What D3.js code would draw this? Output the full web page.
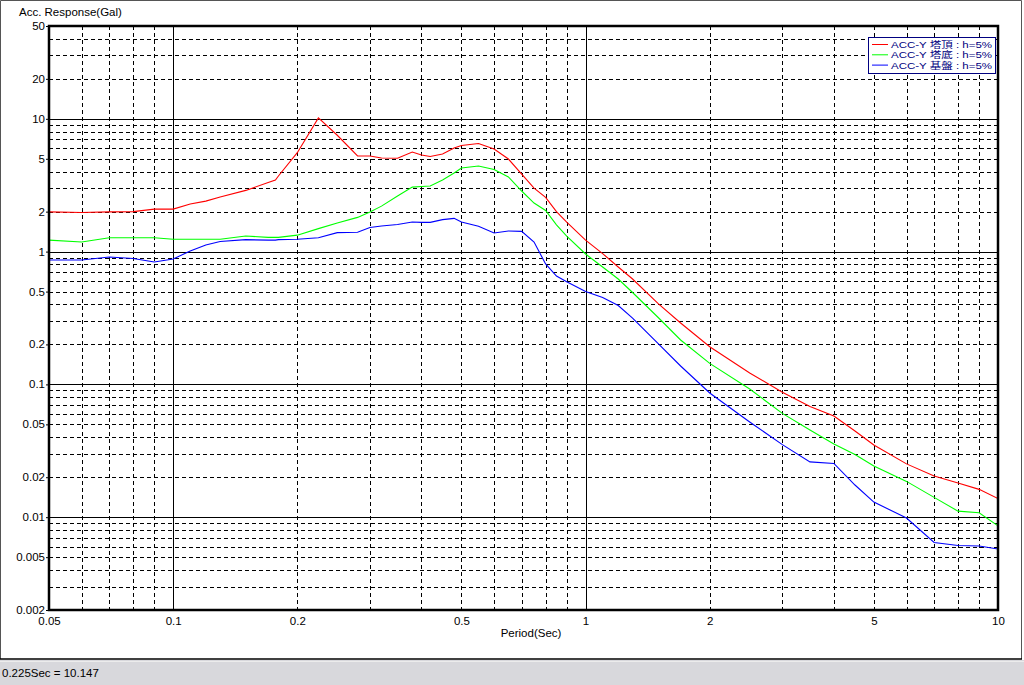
<!DOCTYPE html>
<html>
<head>
<meta charset="utf-8">
<script src="https://cdn.jsdelivr.net/npm/d3@7"></script>
<style>
  html, body { margin: 0; padding: 0; background: #ffffff; }
  svg { display: block; }
  text { font-family: "Liberation Sans", "Noto Sans CJK JP", sans-serif; }
</style>
</head>
<body>
<svg id="chart" width="1024" height="685"></svg>
<script>
// ---- data ----
const periods = [0.05, 0.06, 0.07, 0.08, 0.09, 0.1, 0.11, 0.12, 0.13, 0.15, 0.17, 0.177, 0.18, 0.2, 0.225, 0.25, 0.28, 0.3, 0.32, 0.35, 0.38, 0.4, 0.42, 0.45, 0.48, 0.5, 0.55, 0.6, 0.65, 0.7, 0.75, 0.8, 0.85, 0.9, 1.0, 1.1, 1.2, 1.3, 1.5, 1.7, 2.0, 2.5, 3.0, 3.5, 4.0, 4.5, 5.0, 6.0, 7.0, 8.0, 9.0, 10.0];
const topValues = [1.99, 1.97, 1.99, 2.00, 2.09, 2.09, 2.28, 2.40, 2.58, 2.89, 3.31, 3.46, 3.71, 5.56, 10.15, 7.52, 5.25, 5.25, 5.07, 5.05, 5.62, 5.34, 5.20, 5.43, 6.03, 6.29, 6.51, 5.92, 4.98, 3.84, 3.01, 2.56, 2.00, 1.67, 1.22, 0.966, 0.766, 0.622, 0.406, 0.290, 0.192, 0.122, 0.0872, 0.0682, 0.0578, 0.0446, 0.0350, 0.0252, 0.0204, 0.0181, 0.0162, 0.0138];
const bottomValues = [1.22, 1.18, 1.27, 1.27, 1.27, 1.24, 1.24, 1.24, 1.24, 1.31, 1.28, 1.28, 1.28, 1.33, 1.49, 1.64, 1.81, 1.99, 2.20, 2.62, 3.06, 3.09, 3.12, 3.46, 3.91, 4.26, 4.41, 4.15, 3.65, 2.86, 2.32, 2.04, 1.59, 1.31, 0.959, 0.766, 0.622, 0.492, 0.319, 0.216, 0.144, 0.0923, 0.0605, 0.0454, 0.0356, 0.0297, 0.0243, 0.0186, 0.0141, 0.0111, 0.0108, 0.0086];
const baseValues = [0.865, 0.865, 0.911, 0.888, 0.835, 0.880, 1.01, 1.12, 1.19, 1.23, 1.22, 1.22, 1.23, 1.24, 1.27, 1.39, 1.40, 1.52, 1.56, 1.60, 1.67, 1.66, 1.66, 1.74, 1.78, 1.67, 1.55, 1.38, 1.43, 1.42, 1.18, 0.807, 0.655, 0.593, 0.501, 0.451, 0.393, 0.316, 0.203, 0.1376, 0.0861, 0.0521, 0.0352, 0.0261, 0.0254, 0.01747, 0.0130, 0.00986, 0.00645, 0.00612, 0.00607, 0.00576];

const seriesNames = ["ACC-Y 塔頂 : h=5%", "ACC-Y 塔底 : h=5%", "ACC-Y 基盤 : h=5%"];
const seriesColors = ["#ff0000", "#00ff00", "#0000ff"];
const seriesValues = [topValues, bottomValues, baseValues];

const xTickLabels = [0.05, 0.1, 0.2, 0.5, 1, 2, 5, 10];
const yTickLabels = [0.002, 0.005, 0.01, 0.02, 0.05, 0.1, 0.2, 0.5, 1, 2, 5, 10, 20, 50];
const xDomain = [0.05, 10];
const yDomain = [0.002, 50];
const statusText = "0.225Sec = 10.147";
const yTitle = "Acc. Response(Gal)";
const xTitle = "Period(Sec)";

// ---- layout ----
const svg = d3.select("#chart");
const W = 1024, H = 685;
const plot = { left: 49, right: 998, top: 26, bottom: 610 };

// window background & status bar
svg.append("rect").attr("x", 0).attr("y", 0).attr("width", W).attr("height", H).attr("fill", "#ffffff");
svg.append("rect").attr("x", 0).attr("y", 660).attr("width", W).attr("height", 25).attr("fill", "#d8d8dc");
svg.append("line").attr("x1", 0).attr("x2", W).attr("y1", 661.5).attr("y2", 661.5).attr("stroke", "#ececec");
// panel border
svg.append("path").attr("d", "M0.5,659 L0.5,0.5 L1021.5,0.5 L1021.5,659")
  .attr("fill", "none").attr("stroke", "#555").attr("stroke-width", 1);
svg.append("line").attr("x1", 0).attr("x2", 1022).attr("y1", 659).attr("y2", 659)
  .attr("stroke", "#000").attr("stroke-width", 1.5);

const x = d3.scaleLog().domain(xDomain).range([plot.left, plot.right]);
const y = d3.scaleLog().domain(yDomain).range([plot.bottom, plot.top]);

// ---- grid ----
const grid = svg.append("g");
function minorTicks(lo, hi) {
  const out = [];
  for (let e = Math.floor(Math.log10(lo)); e <= Math.ceil(Math.log10(hi)); e++) {
    for (let m = 1; m <= 9; m++) {
      const v = +(m * Math.pow(10, e)).toPrecision(6);
      if (v > lo * 1.0001 && v < hi * 0.9999) out.push({ v, major: m === 1 });
    }
  }
  return out;
}
minorTicks(yDomain[0], yDomain[1]).forEach(t => {
  const yy = Math.round(y(t.v)) + 0.5;
  grid.append("line").attr("x1", plot.left).attr("x2", plot.right)
    .attr("y1", yy).attr("y2", yy)
    .attr("stroke", "#000").attr("stroke-width", 1)
    .attr("stroke-dasharray", t.major ? null : "4,3");
});
minorTicks(xDomain[0], xDomain[1]).forEach(t => {
  const xx = Math.round(x(t.v)) + 0.5;
  grid.append("line").attr("y1", plot.top).attr("y2", plot.bottom)
    .attr("x1", xx).attr("x2", xx)
    .attr("stroke", "#000").attr("stroke-width", 1)
    .attr("stroke-dasharray", t.major ? null : "4,3");
});

// ---- series ----
const line = d3.line().x(d => x(d[0])).y(d => y(d[1]));
svg.append("clipPath").attr("id", "clip").append("rect")
  .attr("x", plot.left).attr("y", plot.top)
  .attr("width", plot.right - plot.left).attr("height", plot.bottom - plot.top);
seriesValues.forEach((vals, i) => {
  svg.append("path")
    .datum(periods.map((p, j) => [p, vals[j]]))
    .attr("d", line)
    .attr("fill", "none")
    .attr("stroke", seriesColors[i])
    .attr("stroke-width", 1.1)
    .attr("clip-path", "url(#clip)");
});

// ---- plot frame ----
svg.append("rect").attr("x", plot.left).attr("y", plot.top)
  .attr("width", plot.right - plot.left).attr("height", plot.bottom - plot.top)
  .attr("fill", "none").attr("stroke", "#000").attr("stroke-width", 2.5);

// ---- axes ----
const yAxis = d3.axisLeft(y).tickValues(yTickLabels).tickSize(3).tickPadding(1)
  .tickFormat(d => String(d));
const gy = svg.append("g").attr("transform", `translate(${plot.left},0)`).call(yAxis);
gy.select(".domain").remove();
gy.selectAll("text").attr("font-size", "11.5px").attr("fill", "#000")
  .attr("font-family", "'Liberation Sans', sans-serif").attr("dy", "0.3em");

const xAxis = d3.axisBottom(x).tickValues(xTickLabels).tickSize(0).tickPadding(7)
  .tickFormat(d => String(d));
const gx = svg.append("g").attr("transform", `translate(0,${plot.bottom})`).call(xAxis);
gx.select(".domain").remove();
gx.selectAll("text").attr("font-size", "11.5px").attr("fill", "#000")
  .attr("font-family", "'Liberation Sans', sans-serif");

// titles
svg.append("text").attr("x", 19).attr("y", 16).attr("font-size", "11.5px").attr("fill", "#000").text(yTitle);
svg.append("text").attr("x", 531).attr("y", 637).attr("text-anchor", "middle")
  .attr("font-size", "11.5px").attr("fill", "#000").text(xTitle);
svg.append("text").attr("x", 2).attr("y", 677).attr("font-size", "11.5px").attr("fill", "#000").text(statusText);

// ---- legend ----
const lg = svg.append("g");
lg.append("rect").attr("x", 868.5).attr("y", 37.5).attr("width", 127).attr("height", 36)
  .attr("fill", "#ffffff").attr("stroke", "#000080").attr("stroke-width", 1);
seriesNames.forEach((name, i) => {
  const yy = 44.5 + i * 10.3;
  lg.append("line").attr("x1", 872).attr("x2", 888).attr("y1", yy).attr("y2", yy)
    .attr("stroke", seriesColors[i]).attr("stroke-width", 1);
  lg.append("text").attr("x", 891).attr("y", yy + 3.5)
    .attr("font-size", "9.5px").attr("fill", "#000080")
    .style("font-family", "'Liberation Sans', 'Noto Sans CJK JP', sans-serif")
    .attr("textLength", 101).attr("lengthAdjust", "spacingAndGlyphs")
    .text(name);
});
</script>
</body>
</html>
